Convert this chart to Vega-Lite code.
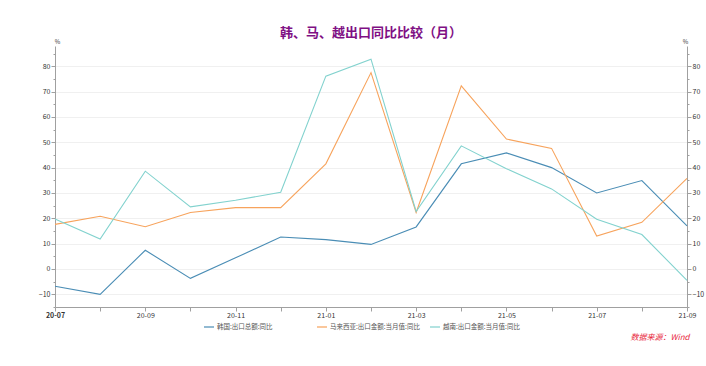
{
  "$schema": "https://vega.github.io/schema/vega-lite/v6.json",
  "width": 632,
  "height": 261,
  "autosize": {"type": "none"},
  "padding": {"left": 55, "top": 46, "right": 19, "bottom": 59},
  "background": "white",
  "title": {
    "text": "韩、马、越出口同比比较（月）",
    "color": "#7F1084",
    "fontSize": 13,
    "fontWeight": "bold",
    "font": "Noto Sans CJK SC",
    "anchor": "middle",
    "frame": "group",
    "offset": -2
  },
  "config": {
    "view": {"stroke": null},
    "font": "Noto Sans CJK SC",
    "axis": {"domainColor": "#A0A0A0", "tickColor": "#A0A0A0", "labelColor": "#333333", "labelFont": "Noto Sans CJK SC"}
  },
  "data": {
    "values": [
      {"month": "20-07", "series": "韩国:出口总额:同比", "value": -6.8},
      {"month": "20-08", "series": "韩国:出口总额:同比", "value": -10.0},
      {"month": "20-09", "series": "韩国:出口总额:同比", "value": 7.4},
      {"month": "20-10", "series": "韩国:出口总额:同比", "value": -3.7},
      {"month": "20-11", "series": "韩国:出口总额:同比", "value": 4.4},
      {"month": "20-12", "series": "韩国:出口总额:同比", "value": 12.6},
      {"month": "21-01", "series": "韩国:出口总额:同比", "value": 11.6},
      {"month": "21-02", "series": "韩国:出口总额:同比", "value": 9.7},
      {"month": "21-03", "series": "韩国:出口总额:同比", "value": 16.6},
      {"month": "21-04", "series": "韩国:出口总额:同比", "value": 41.5},
      {"month": "21-05", "series": "韩国:出口总额:同比", "value": 45.8},
      {"month": "21-06", "series": "韩国:出口总额:同比", "value": 40.0},
      {"month": "21-07", "series": "韩国:出口总额:同比", "value": 30.0},
      {"month": "21-08", "series": "韩国:出口总额:同比", "value": 34.9},
      {"month": "21-09", "series": "韩国:出口总额:同比", "value": 17.0},
      {"month": "20-07", "series": "马来西亚:出口金额:当月值:同比", "value": 17.6},
      {"month": "20-08", "series": "马来西亚:出口金额:当月值:同比", "value": 20.8},
      {"month": "20-09", "series": "马来西亚:出口金额:当月值:同比", "value": 16.7},
      {"month": "20-10", "series": "马来西亚:出口金额:当月值:同比", "value": 22.3},
      {"month": "20-11", "series": "马来西亚:出口金额:当月值:同比", "value": 24.2},
      {"month": "20-12", "series": "马来西亚:出口金额:当月值:同比", "value": 24.2},
      {"month": "21-01", "series": "马来西亚:出口金额:当月值:同比", "value": 41.5},
      {"month": "21-02", "series": "马来西亚:出口金额:当月值:同比", "value": 77.5},
      {"month": "21-03", "series": "马来西亚:出口金额:当月值:同比", "value": 22.3},
      {"month": "21-04", "series": "马来西亚:出口金额:当月值:同比", "value": 72.3},
      {"month": "21-05", "series": "马来西亚:出口金额:当月值:同比", "value": 51.3},
      {"month": "21-06", "series": "马来西亚:出口金额:当月值:同比", "value": 47.6},
      {"month": "21-07", "series": "马来西亚:出口金额:当月值:同比", "value": 13.0},
      {"month": "21-08", "series": "马来西亚:出口金额:当月值:同比", "value": 18.4},
      {"month": "21-09", "series": "马来西亚:出口金额:当月值:同比", "value": 35.8},
      {"month": "20-07", "series": "越南:出口金额:当月值:同比", "value": 19.7},
      {"month": "20-08", "series": "越南:出口金额:当月值:同比", "value": 11.8},
      {"month": "20-09", "series": "越南:出口金额:当月值:同比", "value": 38.6},
      {"month": "20-10", "series": "越南:出口金额:当月值:同比", "value": 24.5},
      {"month": "20-11", "series": "越南:出口金额:当月值:同比", "value": 27.1},
      {"month": "20-12", "series": "越南:出口金额:当月值:同比", "value": 30.3},
      {"month": "21-01", "series": "越南:出口金额:当月值:同比", "value": 76.1},
      {"month": "21-02", "series": "越南:出口金额:当月值:同比", "value": 82.8},
      {"month": "21-03", "series": "越南:出口金额:当月值:同比", "value": 22.7},
      {"month": "21-04", "series": "越南:出口金额:当月值:同比", "value": 48.6},
      {"month": "21-05", "series": "越南:出口金额:当月值:同比", "value": 39.6},
      {"month": "21-06", "series": "越南:出口金额:当月值:同比", "value": 31.6},
      {"month": "21-07", "series": "越南:出口金额:当月值:同比", "value": 19.6},
      {"month": "21-08", "series": "越南:出口金额:当月值:同比", "value": 13.6},
      {"month": "21-09", "series": "越南:出口金额:当月值:同比", "value": -4.5}
    ]
  },
  "layer": [
    {
      "mark": {"type": "line", "strokeWidth": 1.1},
      "encoding": {
        "x": {
          "field": "month",
          "type": "ordinal",
          "sort": null,
          "scale": {"type": "point", "padding": 0},
          "axis": {
            "title": "数据来源：Wind",
            "titleColor": "#E8283C",
            "titleFontStyle": "italic",
            "titleFontWeight": "normal",
            "titleFontSize": 8,
            "titleAnchor": "end",
            "titleAlign": "right",
            "titleX": 634,
            "titleY": 26,
            "labelAngle": 0,
            "labelFontSize": 7,
            "labelPadding": 0,
            "labelColor": "#333333",
            "tickSize": 4,
            "labelExpr": "toNumber(slice(datum.value, 3)) % 2 == 1 ? datum.label : ''",
            "labelFontWeight": {"condition": {"test": "datum.value == '20-07'", "value": "bold"}, "value": "normal"},
            "grid": false
          }
        },
        "y": {
          "field": "value",
          "type": "quantitative",
          "scale": {"domain": [-15, 88], "nice": false, "zero": false},
          "axis": {
            "orient": "left",
            "values": [-15, -10, -5, 0, 5, 10, 15, 20, 25, 30, 35, 40, 45, 50, 55, 60, 65, 70, 75, 80, 85],
            "labelExpr": "datum.value % 10 == 0 ? datum.label : ''",
            "labelFontSize": 7,
            "labelPadding": 1,
            "tickSize": {"condition": {"test": "datum.value % 10 == 0", "value": 4}, "value": 2},
            "grid": true,
            "gridColor": "#F0F0F0",
            "gridOpacity": {"condition": {"test": "datum.value % 10 == 0", "value": 1}, "value": 0},
            "title": "%",
            "titleAngle": 0,
            "titleFontSize": 6,
            "titleFontWeight": "normal",
            "titleColor": "#333333",
            "titleX": 2,
            "titleY": -2,
            "titleAlign": "center",
            "titleBaseline": "bottom"
          }
        },
        "color": {
          "field": "series",
          "type": "nominal",
          "scale": {
            "domain": ["韩国:出口总额:同比", "马来西亚:出口金额:当月值:同比", "越南:出口金额:当月值:同比"],
            "range": ["#4A8DB5", "#F7A35C", "#82D2CE"]
          },
          "legend": {
            "title": null,
            "orient": "none",
            "direction": "horizontal",
            "legendX": 148,
            "legendY": 275,
            "symbolType": "stroke",
            "symbolSize": 100,
            "symbolStrokeWidth": 2,
            "symbolOpacity": 0.6,
            "labelFontSize": 6.5,
            "labelColor": "#555555",
            "columnPadding": 6,
            "gridAlign": "all",
            "labelOffset": 2
          }
        }
      }
    },
    {
      "mark": {"type": "line", "opacity": 0},
      "encoding": {
        "x": {
          "field": "month",
          "type": "ordinal",
          "sort": null,
          "scale": {"type": "point", "padding": 0},
          "axis": {
            "title": "数据来源：Wind",
            "titleColor": "#E8283C",
            "titleFontStyle": "italic",
            "titleFontWeight": "normal",
            "titleFontSize": 8,
            "titleAnchor": "end",
            "titleAlign": "right",
            "titleX": 634,
            "titleY": 26,
            "labelAngle": 0,
            "labelFontSize": 7,
            "labelPadding": 0,
            "labelColor": "#333333",
            "tickSize": 4,
            "labelExpr": "toNumber(slice(datum.value, 3)) % 2 == 1 ? datum.label : ''",
            "labelFontWeight": {"condition": {"test": "datum.value == '20-07'", "value": "bold"}, "value": "normal"},
            "grid": false
          }
        },
        "y": {
          "field": "value",
          "type": "quantitative",
          "scale": {"domain": [-15, 88], "nice": false, "zero": false},
          "axis": {
            "orient": "right",
            "values": [-15, -10, -5, 0, 5, 10, 15, 20, 25, 30, 35, 40, 45, 50, 55, 60, 65, 70, 75, 80, 85],
            "labelExpr": "datum.value % 10 == 0 ? datum.label : ''",
            "labelFontSize": 7,
            "labelPadding": 1,
            "tickSize": {"condition": {"test": "datum.value % 10 == 0", "value": 4}, "value": 2},
            "grid": false,
            "title": "%",
            "titleAngle": 0,
            "titleFontSize": 6,
            "titleFontWeight": "normal",
            "titleColor": "#333333",
            "titleX": -2,
            "titleY": -2,
            "titleAlign": "center",
            "titleBaseline": "bottom"
          }
        },
        "detail": {"field": "series"}
      }
    }
  ],
  "resolve": {"axis": {"y": "independent"}}
}
